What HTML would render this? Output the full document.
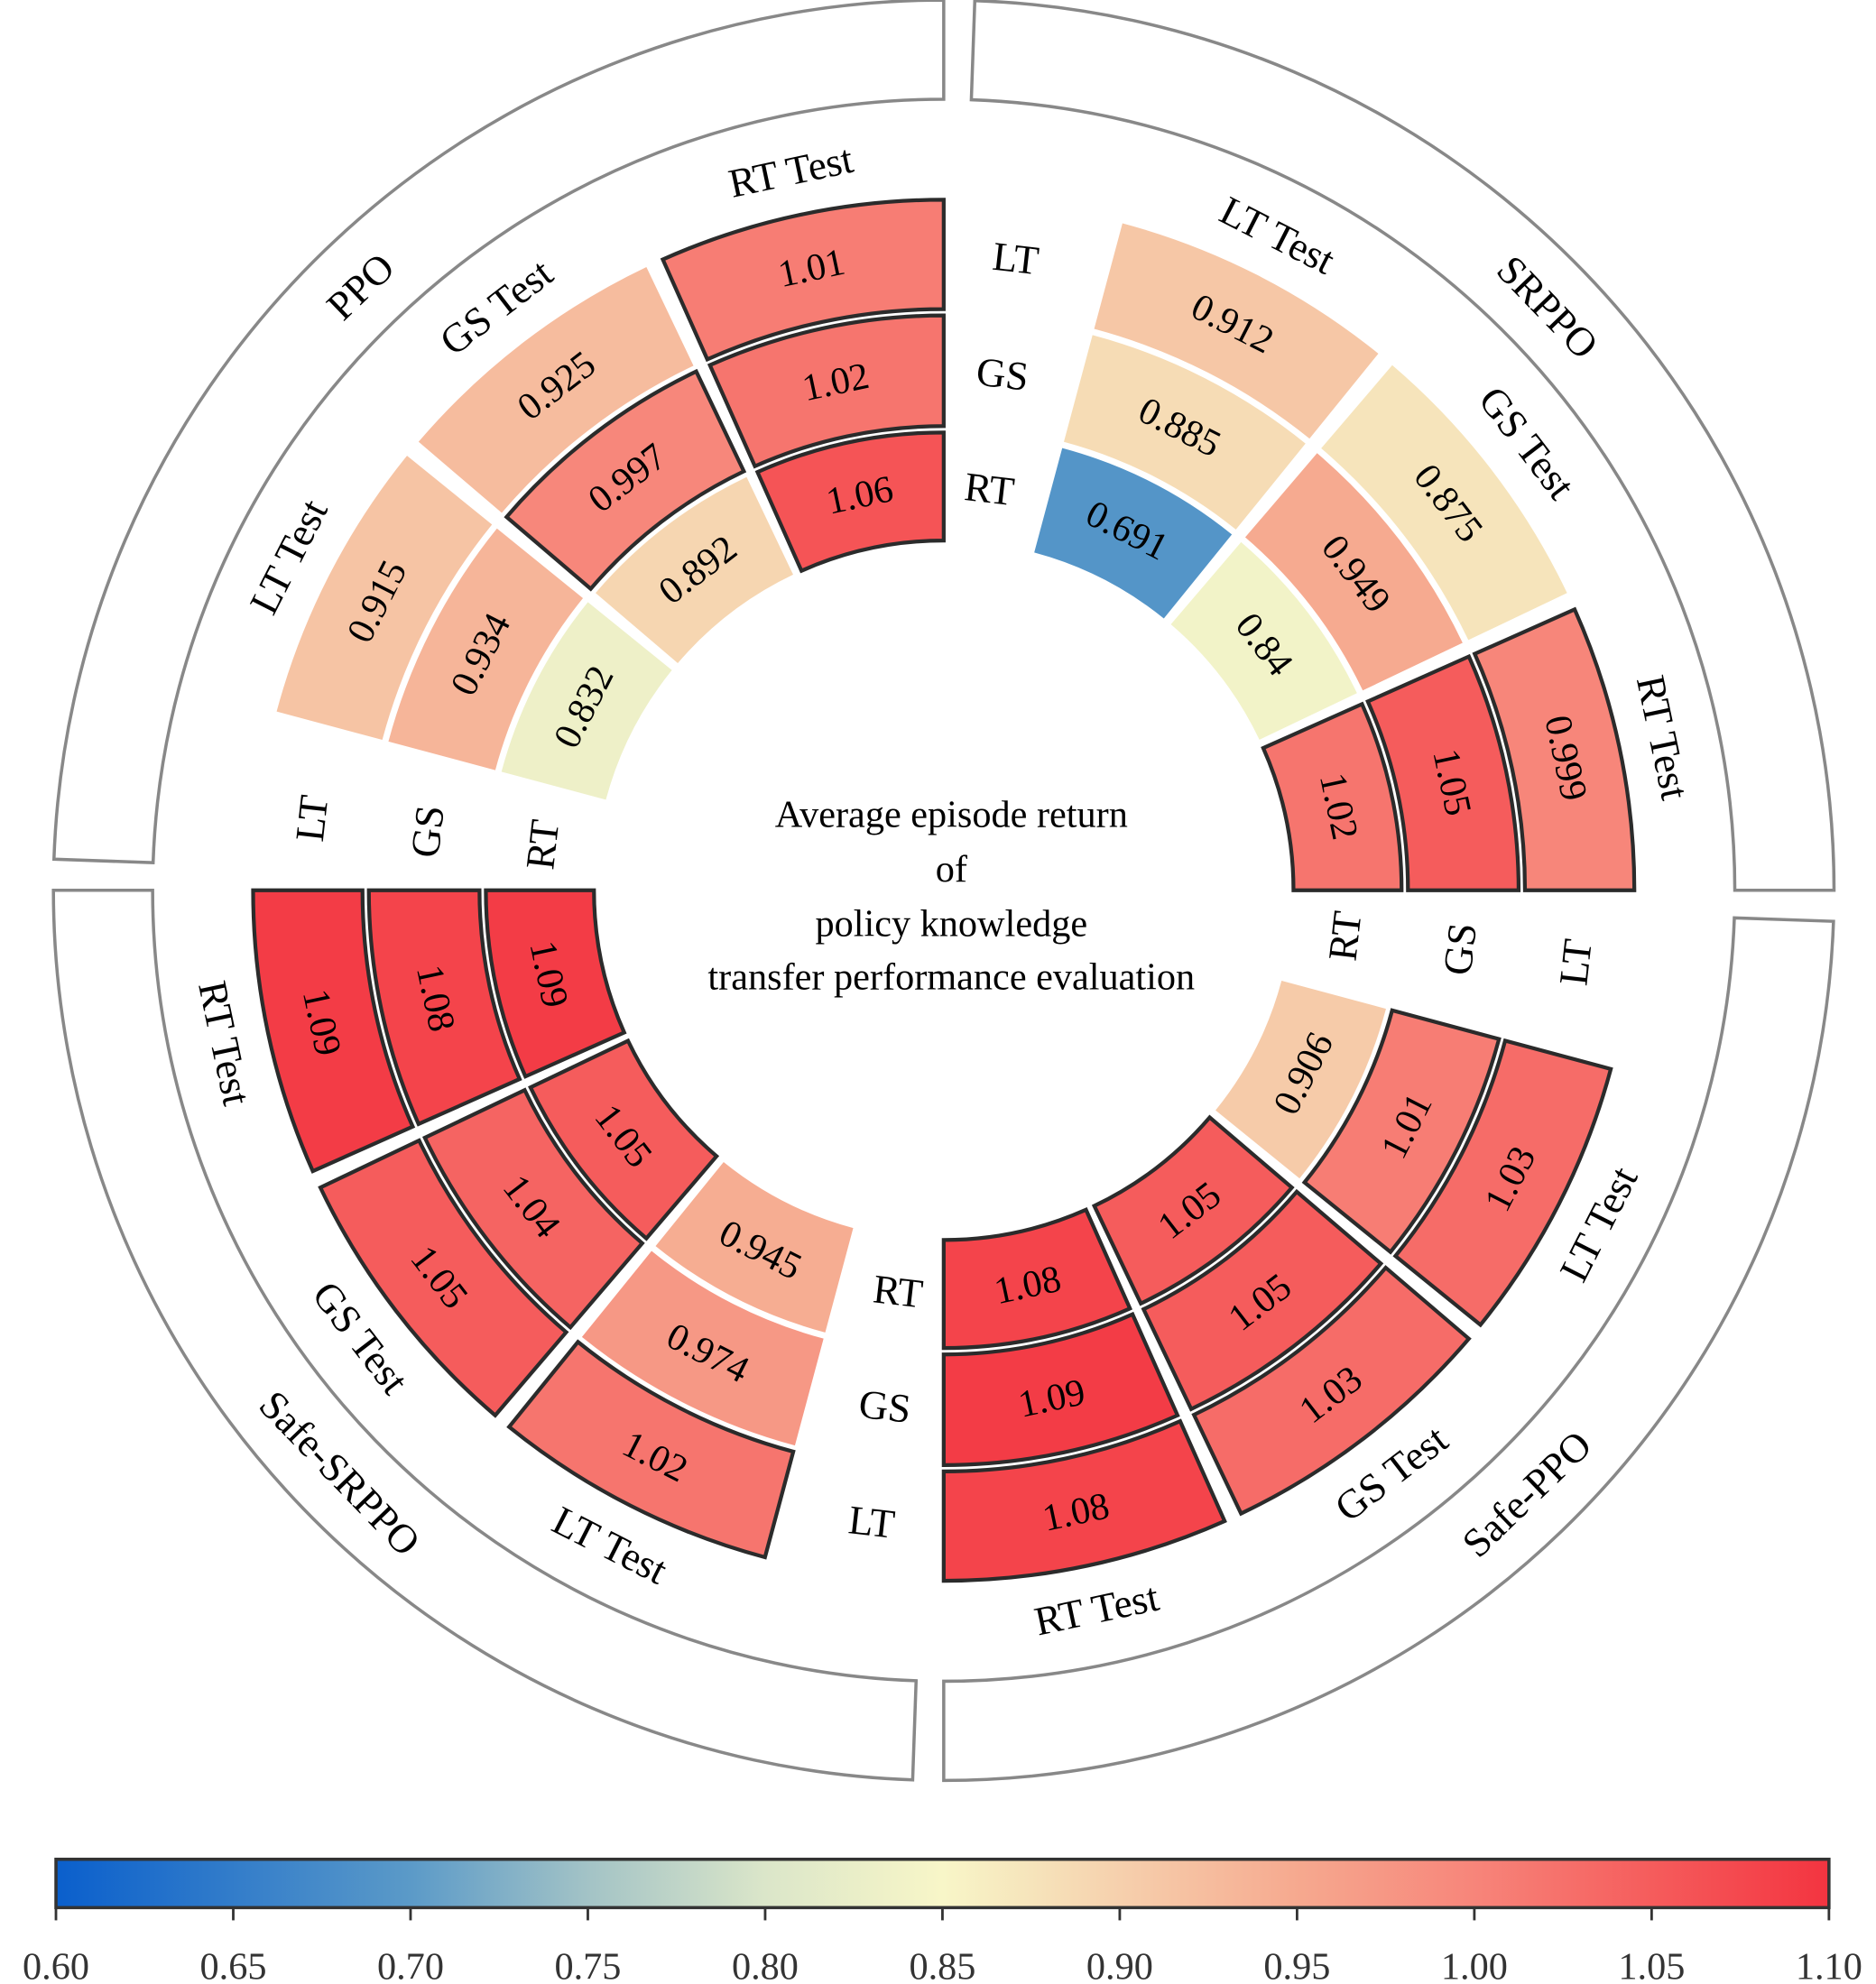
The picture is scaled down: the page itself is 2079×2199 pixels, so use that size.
<!DOCTYPE html>
<html><head><meta charset="utf-8"><style>
html,body{margin:0;padding:0;background:#fff;}
svg{display:block;font-family:"Liberation Serif",serif;}
</style></head><body>
<svg id="chart" width="2079" height="2199" viewBox="0 0 1475 1560" xmlns="http://www.w3.org/2000/svg">
<defs><linearGradient id="cmap" x1="0" x2="1" y1="0" y2="0"></linearGradient></defs>
<g id="boxes"></g><g id="cells"></g><g id="labels"></g>
<g font-size="30" text-anchor="middle" fill="#000">
<text x="748" y="650">Average episode return</text>
<text x="748" y="693">of</text>
<text x="748" y="736">policy knowledge</text>
<text x="748" y="778">transfer performance evaluation</text>
</g>
<g id="colorbar"></g>
</svg>
<script>
const quadrantNames = ["SRPPO", "PPO", "Safe-SRPPO", "Safe-PPO"];
const quadrantStartAngles = [0, 90, 180, 270];
const groupNames = ["RT Test", "GS Test", "LT Test"];
const ringNames = ["RT", "GS", "LT"];
// values[quadrant][group][ring inner->outer]
const valuesSRPPO = [[1.02, 1.05, 0.999], [0.84, 0.949, 0.875], [0.691, 0.885, 0.912]];
const valuesPPO = [[1.06, 1.02, 1.01], [0.892, 0.997, 0.925], [0.832, 0.934, 0.915]];
const valuesSafeSRPPO = [[1.09, 1.08, 1.09], [1.05, 1.04, 1.05], [0.945, 0.974, 1.02]];
const valuesSafePPO = [[1.08, 1.09, 1.08], [1.05, 1.05, 1.03], [0.906, 1.01, 1.03]];
const allValues = [valuesSRPPO, valuesPPO, valuesSafeSRPPO, valuesSafePPO];
const tickValues = [0.60, 0.65, 0.70, 0.75, 0.80, 0.85, 0.90, 0.95, 1.00, 1.05, 1.10];
const tickLabels = ["0.60","0.65","0.70","0.75","0.80","0.85","0.90","0.95","1.00","1.05","1.10"];
const cmapStops = [[0.60,"#0a5fcc"],[0.70,"#5b9ac8"],[0.75,"#a3c3c6"],[0.80,"#dbe6c9"],[0.85,"#f8f6c8"],[0.875,"#f6e4bb"],[0.90,"#f6d0ad"],[0.95,"#f6a98f"],[1.00,"#f7857a"],[1.05,"#f55c5c"],[1.10,"#f33440"]];

const NS = "http://www.w3.org/2000/svg";
const cx = 742, cy = 700;
const vmin = 0.6, vmax = 1.1;
const ringR = [[275, 360], [365, 452], [457, 543]];
function mk(tag, attrs, parent){const e=document.createElementNS(NS,tag);for(const k in attrs)e.setAttribute(k,attrs[k]);parent.appendChild(e);return e;}
function pt(r,a){const t=a*Math.PI/180;return [cx+r*Math.cos(t), cy-r*Math.sin(t)];}
function sector(r0,r1,a0,a1){
  const p1=pt(r1,a0),p2=pt(r1,a1),p3=pt(r0,a1),p4=pt(r0,a0);const lg=(a1-a0)>180?1:0;
  return `M${p1[0]},${p1[1]} A${r1},${r1} 0 ${lg} 0 ${p2[0]},${p2[1]} L${p3[0]},${p3[1]} A${r0},${r0} 0 ${lg} 1 ${p4[0]},${p4[1]} Z`;
}
function hex2rgb(h){return [1,3,5].map(i=>parseInt(h.substr(i,2),16));}
function color(v){
  v=Math.max(vmin,Math.min(vmax,v));
  for(let i=0;i<cmapStops.length-1;i++){const [a,ca]=cmapStops[i],[b,cb]=cmapStops[i+1];
    if(v<=b){const t=(v-a)/(b-a),A=hex2rgb(ca),B=hex2rgb(cb);return `rgb(${A.map((x,j)=>Math.round(x+(B[j]-x)*t)).join(",")})`;}}
  return cmapStops[cmapStops.length-1][1];
}
function rot(a){let r=90-a;while(r>90)r-=180;while(r<=-90)r+=180;return r;}
function label(txt,r,a,size,parent,name){
  const p=pt(r,a);
  const t=mk("text",{x:p[0],y:p[1],"font-size":size,"text-anchor":"middle","dominant-baseline":"central",transform:`rotate(${rot(a)} ${p[0]} ${p[1]})`},parent);
  
  
  t.textContent=txt;return t;
}
const gBoxes=document.getElementById("boxes"),gCells=document.getElementById("cells"),gLabels=document.getElementById("labels");
const groupSpan=24, groupStep=25.5;
quadrantNames.forEach((qn,qi)=>{
  const a0=quadrantStartAngles[qi];
  const box=mk("path",{d:sector(622,700,a0,a0+88),fill:"none",stroke:"#888",'stroke-width':2.5},gBoxes);
  
  
  label(qn,660,a0+44,32,gLabels,'quadrant-label-'+qn.toLowerCase());
  groupNames.forEach((gn,gi)=>{
    const ga0=a0+gi*groupStep, ga1=ga0+groupSpan;
    label(gn,578,(ga0+ga1)/2,32,gLabels,'group-label-'+gn.toLowerCase().replace(' ','-'));
    ringNames.forEach((rn,ri)=>{
      const v=allValues[qi][gi][ri];
      const border=v>=0.99;
      const c=mk("path",{d:sector(ringR[ri][0],ringR[ri][1],ga0,ga1),fill:color(v),stroke:border?"#2b2b2b":"none",'stroke-width':border?3:0,'stroke-linejoin':'miter'},gCells);
      
      
      label(String(v),(ringR[ri][0]+ringR[ri][1])/2,(ga0+ga1)/2,30,gLabels,'cell-value');
    });
  });
  ringNames.forEach((rn,ri)=>{
    label(rn,(ringR[ri][0]+ringR[ri][1])/2,a0+83.5,32,gLabels,'ring-label-'+rn.toLowerCase());
  });
});
// colorbar
const grad=document.getElementById("cmap");
cmapStops.forEach(s=>{mk("stop",{offset:((s[0]-vmin)/(vmax-vmin)*100)+"%","stop-color":s[1]},grad);});
const cb=document.getElementById("colorbar");
const bx0=44,bx1=1438,by0=1462,by1=1500;
function xScale(v){return bx0+(v-vmin)/(vmax-vmin)*(bx1-bx0);}
const bar=mk("rect",{x:bx0,y:by0,width:bx1-bx0,height:by1-by0,fill:"url(#cmap)",stroke:"#333","stroke-width":2.5},cb);


tickValues.forEach((v,i)=>{
  const x=xScale(v);
  const tk=mk("line",{x1:x,x2:x,y1:by1,y2:by1+10,stroke:"#333","stroke-width":2},cb);
  
  
  const t=mk("text",{x:x,y:1556,"font-size":30,"text-anchor":"middle",fill:"#333"},cb);
  
  
  t.textContent=tickLabels[i];
});
</script>
</body></html>
